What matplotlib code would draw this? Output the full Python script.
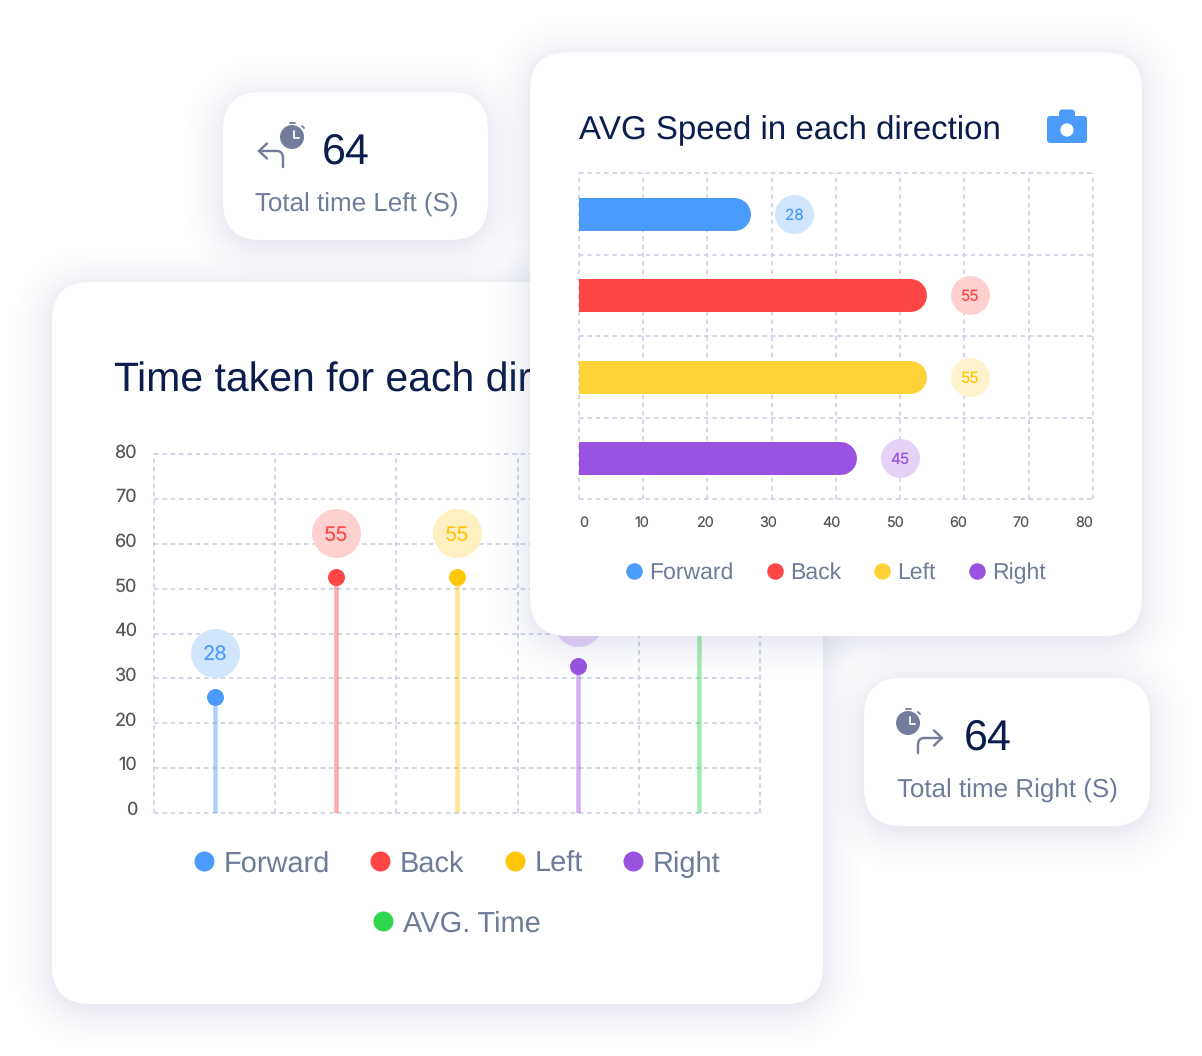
import matplotlib
matplotlib.use("Agg")
import matplotlib.pyplot as plt
import numpy as np
from matplotlib.lines import Line2D
from matplotlib.patches import Circle, FancyBboxPatch, PathPatch
from matplotlib.path import Path
from matplotlib.transforms import ScaledTranslation

# data
directions = ["Forward", "Back", "Left", "Right"]
time_names = ["Forward", "Back", "Left", "Right", "AVG. Time"]
time_values = [25.8, 52.6, 52.6, 32.7, 50]
time_labels = ["28", "55", "55", "45", "50"]
speed_values = [26.8, 54.1, 54.1, 43.2]
speed_labels = ["28", "55", "55", "45"]
axis_ticks = [0, 10, 20, 30, 40, 50, 60, 70, 80]
left_total = "64"
right_total = "64"

# colours
BLUE = "#4a9bfb"
RED = "#ff4646"
YELLOW = "#ffd337"
AMBER = "#ffc60a"
PURPLE = "#9a52e0"
GREEN = "#2fd84e"
NAVY = "#0b1d4d"
GREY = "#6f7c99"
ICON = "#737d9b"
GRID = "#ccd2e4"
TICK = "#55555a"
time_colors = [BLUE, RED, AMBER, PURPLE, GREEN]
speed_colors = [BLUE, RED, YELLOW, PURPLE]

W, H = 1202, 1056
PX = 0.72  # one pixel in points at dpi 100
SANS = "Liberation Sans"

plt.rcParams["font.family"] = ["Inter", "DejaVu Sans"]
plt.rcParams["text.hinting"] = "no_hinting"
plt.rcParams["text.hinting_factor"] = 1
fig = plt.figure(figsize=(W / 100, H / 100), dpi=100, facecolor="white")


def axes_px(x0, y0, x1, y1, zorder):
    ax = fig.add_axes([x0 / W, 1 - y1 / H, (x1 - x0) / W, (y1 - y0) / H], zorder=zorder)
    ax.patch.set_visible(False)
    return ax


def overlay(zorder):
    ax = axes_px(0, 0, W, H, zorder)
    ax.axis("off")
    ax.set_xlim(0, W)
    ax.set_ylim(H, 0)
    return ax


def card(ax, x0, y0, x1, y1, r=38, reach=46, drop=5):
    # soft shadow from the distance to the rounded box
    px, py = np.meshgrid(np.arange(W) + 0.5, np.arange(H) + 0.5)
    dx = np.abs(px - (x0 + x1) / 2) - ((x1 - x0) / 2 - r)
    dy = np.abs(py - (y0 + y1) / 2 - drop) - ((y1 - y0) / 2 - r)
    dist = np.hypot(np.maximum(dx, 0), np.maximum(dy, 0)) + np.minimum(np.maximum(dx, dy), 0) - r
    fade = np.clip(1 - dist / reach, 0, 1) ** 2
    rgba = np.zeros((H, W, 4))
    rgba[..., :3] = (0.42, 0.47, 0.66)
    rgba[..., 3] = 0.135 * fade
    ax.imshow(rgba, extent=(0, W, H, 0), aspect="auto", interpolation="nearest", zorder=1)
    ax.add_patch(FancyBboxPatch(
        (x0, y0), x1 - x0, y1 - y0, boxstyle=f"round,pad=0,rounding_size={r}",
        fc="white", ec="none", zorder=2))
    ax.set_xlim(0, W)
    ax.set_ylim(H, 0)


def style_grid(ax):
    for s in ax.spines.values():
        s.set_visible(False)
    ax.grid(True, color=GRID, lw=1.7 * PX, linestyle=(0, (2.7, 2.2)))
    ax.set_axisbelow(True)
    for line in ax.get_xgridlines() + ax.get_ygridlines():
        line.set_clip_on(False)


def poly(ax, pts, color=ICON, lw=2.4):
    codes = [Path.MOVETO] + [Path.LINETO] * (len(pts) - 1)
    ax.add_patch(PathPatch(Path(pts, codes), fc="none", ec=color, lw=lw * PX,
                           capstyle="round", joinstyle="round", zorder=3))


def timer(ax, cx, cy):
    ax.add_patch(Circle((cx, cy), 12, fc=ICON, ec="none", zorder=3))
    poly(ax, [(cx - 2.5, cy - 14.5), (cx + 3, cy - 14.5)], lw=1.8)
    poly(ax, [(cx + 10, cy - 11), (cx + 12, cy - 9)], lw=1.8)
    poly(ax, [(cx + 1.5, cy - 6), (cx + 1.5, cy + 1), (cx + 7, cy + 1)], color="white", lw=1.8)


def turn_arrow(ax, sx, sy, tx, ty):
    # shaft rises from (sx, sy), bends and runs to the tip at (tx, ty)
    d = 1 if tx > sx else -1
    verts = [(sx, sy), (sx, ty + 7), (sx, ty), (sx + d * 6, ty), (tx, ty)]
    codes = [Path.MOVETO, Path.LINETO, Path.CURVE3, Path.CURVE3, Path.LINETO]
    ax.add_patch(PathPatch(Path(verts, codes), fc="none", ec=ICON, lw=2.4 * PX,
                           capstyle="round", zorder=3))
    poly(ax, [(tx - d * 8, ty - 7.5), (tx, ty), (tx - d * 8, ty + 7.5)])


def legend_row(ax, names, colors, y, fontsize, marker_px, spacing):
    handles = [Line2D([], [], ls="none", marker="o", ms=marker_px * PX, mfc=c, mec="none")
               for c in colors]
    leg = ax.legend(handles, names, loc="center", bbox_to_anchor=(0.5, y), ncols=len(names),
                    frameon=False, prop={"family": SANS, "size": fontsize}, labelcolor=GREY,
                    borderpad=0, borderaxespad=0, handlelength=0.7, handletextpad=0.32,
                    columnspacing=spacing)
    ax.add_artist(leg)
    ax.legend_ = None


def label_axis(ax):
    ax.tick_params(length=0)
    for s in ax.spines.values():
        s.set_visible(False)


def bubble(ax, x, y, diameter, color):
    # bubbles hide the grid, so a white disc goes under the tint
    ax.plot(x, y, "o", ms=diameter * PX, mfc="white", mec="none", zorder=2)
    ax.plot(x, y, "o", ms=diameter * PX, mfc=color, mec="none", alpha=0.25, zorder=2)


# back layer: the two left cards
back = overlay(0)
card(back, 52, 282, 823, 1004)
card(back, 223, 92, 488, 240)
back.text(114, 392, "Time taken for each direction", fontsize=29.6, color=NAVY, family=SANS, zorder=4)
back.text(322, 164, left_total, fontsize=31, color=NAVY, family=SANS, zorder=4)
back.text(255, 212, "Total time Left (S)", fontsize=18.6, color=GREY, family=SANS, zorder=4)
timer(back, 292, 137)
turn_arrow(back, 283, 167, 259, 151)

# lollipop chart
ax_time = axes_px(154, 454, 760, 813, 1)
ax_time.set_xlim(0, 5)
ax_time.set_ylim(0, 80)
ax_time.set_xticks(range(6))
ax_time.set_yticks(axis_ticks)
ax_time.tick_params(length=0, labelbottom=False, labelleft=False)
style_grid(ax_time)
unit_px = 359 / 80
for i, (v, lab, c) in enumerate(zip(time_values, time_labels, time_colors)):
    x = i + 0.5
    bubble_y = v + 44 / unit_px
    ax_time.vlines(x, 0, v, color=c, alpha=0.45, lw=4.5 * PX, zorder=2)
    ax_time.plot(x, v, "o", ms=17 * PX, mfc=c, mec="none", zorder=3)
    bubble(ax_time, x, bubble_y, 49, c)
    ax_time.text(x, bubble_y, lab, color=c, fontsize=14.5, ha="center", va="center_baseline", zorder=4)
legend_row(ax_time, time_names[:4], time_colors[:4], -51 / 359, 21, 20, 1.38)
legend_row(ax_time, time_names[4:], time_colors[4:], -111 / 359, 21, 20, 1.38)

# y tick labels of the lollipop chart sit a little above their grid lines
ax_time_ticks = axes_px(137, 451, 138, 808, 1)
ax_time_ticks.set_ylim(0, 80)
ax_time_ticks.set_xticks([])
ax_time_ticks.set_yticks(axis_ticks)
ax_time_ticks.tick_params(labelsize=13, labelcolor=TICK, pad=0)
label_axis(ax_time_ticks)

# front layer: right cards
front = overlay(2)
card(front, 530, 52, 1142, 636)
card(front, 864, 678, 1150, 826)
front.text(579, 139, "AVG Speed in each direction", fontsize=23.5, color=NAVY, family=SANS, zorder=4)
front.text(964, 750, right_total, fontsize=31, color=NAVY, family=SANS, zorder=4)
front.text(897, 798, "Total time Right (S)", fontsize=18.8, color=GREY, family=SANS, zorder=4)
timer(front, 908, 723)
turn_arrow(front, 918, 753, 942, 738)
# camera icon
front.add_patch(FancyBboxPatch((1059, 109.5), 16, 10, boxstyle="round,pad=0,rounding_size=3.5", fc=BLUE, ec="none", zorder=3))
front.add_patch(FancyBboxPatch((1047, 116), 40, 27, boxstyle="round,pad=0,rounding_size=3.5", fc=BLUE, ec="none", zorder=3))
front.add_patch(Circle((1067, 130), 6.6, fc="white", ec="none", zorder=4))

# horizontal bars
ax_speed = axes_px(578.6, 173, 1093, 499, 3)
ax_speed.set_xlim(0, 80)
ax_speed.set_ylim(4, 0)
ax_speed.set_xticks(axis_ticks)
ax_speed.set_yticks(range(5))
ax_speed.tick_params(length=0, labelbottom=False, labelleft=False)
style_grid(ax_speed)
speed_px = 514.4 / 80
for i, (v, lab, c) in enumerate(zip(speed_values, speed_labels, speed_colors)):
    y = i + 0.5
    # round cap on the right, the axes clip takes the left one away
    ax_speed.hlines(y, 0, v - 16.5 / speed_px, color=c, lw=33 * PX, capstyle="round", zorder=2)
    bubble_x = v + 43.5 / speed_px
    bubble(ax_speed, bubble_x, y, 39, c)
    ax_speed.text(bubble_x, y, lab, color=AMBER if c == YELLOW else c, fontsize=11,
                  ha="center", va="center_baseline", zorder=4)
legend_row(ax_speed, directions, speed_colors, -74 / 326, 16.6, 16.5, 1.42)

# tick labels of the bar chart run on their own slightly narrower span
ax_ticks = axes_px(579, 498, 1084, 499, 3)
ax_ticks.set_xlim(0, 80)
ax_ticks.set_yticks([])
ax_ticks.set_xticks(axis_ticks)
ax_ticks.tick_params(labelsize=10.3, labelcolor=TICK, pad=12.5)
label_axis(ax_ticks)
fig.canvas.draw()
zero = ax_ticks.get_xticklabels()[0]
zero.set_transform(zero.get_transform() + ScaledTranslation(5 / 100, 0, fig.dpi_scale_trans))

fig.savefig("out.png", dpi=100, facecolor="white")
